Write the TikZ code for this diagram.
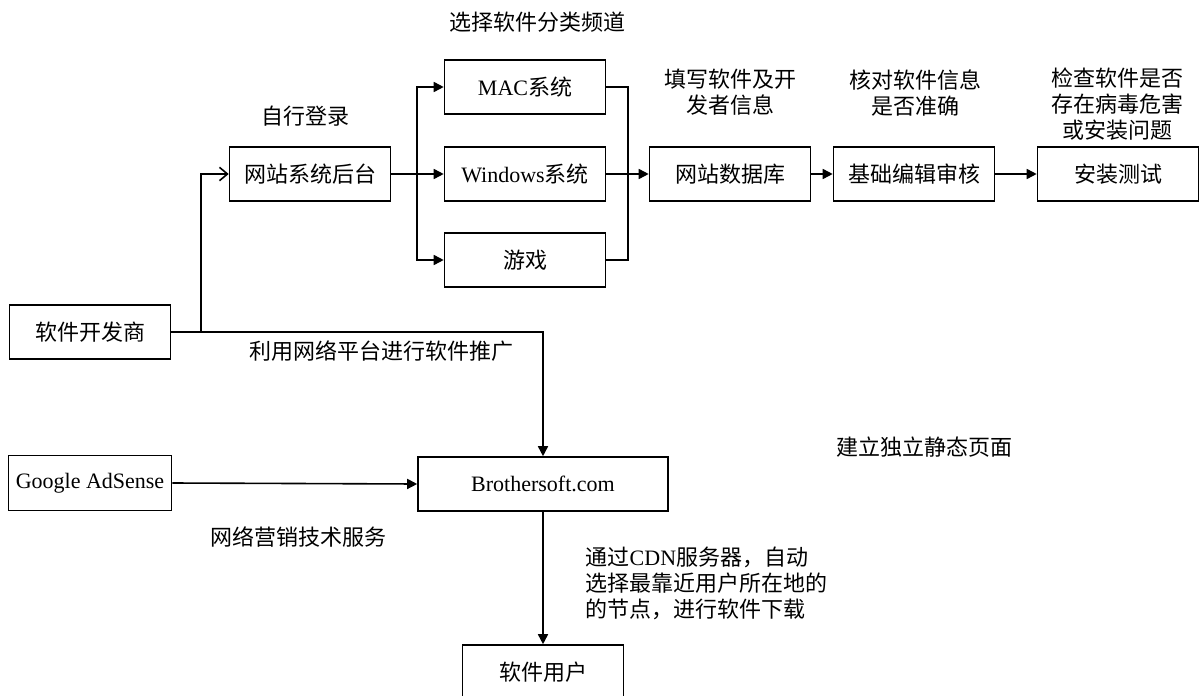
\documentclass[tikz,border=0pt]{standalone}
\usepackage{fontspec}
\usepackage{tikz}
\usetikzlibrary{arrows.meta}
\setmainfont{Noto Sans CJK SC}
\newfontfamily\latin{Liberation Serif}

\begin{document}
\begin{tikzpicture}[x=0.75pt, y=-0.75pt,
	every node/.style={font=\fontsize{16.5}{19.5}\selectfont},
	box/.style={draw, line width=1.2pt, minimum width=120.75pt, minimum height=40.5pt, inner sep=0pt},
	arr/.style={line width=1.2pt, -{Triangle[length=7.5pt, width=7.5pt]}},
	openarr/.style={line width=1.2pt, -{Straight Barb[length=6pt, width=10pt]}},
	link/.style={line width=1.2pt}]
	\useasboundingbox (0,0) rectangle (1201,695);

	%% Draw boxes
	\node[box] (dev)     at (90,332)   {软件开发商};
	\node[box] (backend) at (310,174)  {网站系统后台};
	\node[box] (mac)     at (525,87)   {{\latin MAC}系统};
	\node[box] (win)     at (525,174)  {{\latin Windows}系统};
	\node[box] (game)    at (525,260)  {游戏};
	\node[box] (db)      at (730,174)  {网站数据库};
	\node[box] (edit)    at (914,174)  {基础编辑审核};
	\node[box] (test)    at (1118,174) {安装测试};
	\node[box, minimum width=122.25pt, minimum height=41.25pt] (adsense) at (90,483) {\latin Google AdSense};
	\node[box, minimum width=187.5pt] (site) at (543,484) {\latin Brothersoft.com};
	\node[box] (user)    at (543,672)  {软件用户};

	%% Draw text on connectors
	\node (chan)   at (537,22)  {选择软件分类频道};
	\node (login)  at (305,116) {自行登录};
	\node[align=center] (fill)  at (730,92)   {填写软件及开\\发者信息};
	\node[align=center] (check) at (915,93)   {核对软件信息\\是否准确};
	\node[align=center] (virus) at (1117,104) {检查软件是否\\存在病毒危害\\或安装问题};
	\node (promo)  at (381,351) {利用网络平台进行软件推广};
	\node (market) at (298,537) {网络营销技术服务};
	\node (static) at (924,447) {建立独立静态页面};
	\node[align=left, anchor=west] (cdn) at (581,583)
		{通过{\latin CDN}服务器，自动\\选择最靠近用户所在地的\\的节点，进行软件下载};

	%% Draw connectors
	\coordinate (split1) at (201,332);
	\coordinate (split2) at (417,174);
	\coordinate (merge)  at (628,174);

	\draw[link] (dev.east) -- (split1);
	\draw[openarr] (split1) |- (backend.west);
	\draw[arr] (split1) -| (site.north);

	\draw[link] (backend.east) -- (split2);
	\draw[arr] (split2) |- (mac.west);
	\draw[arr] (split2) -- (win.west);
	\draw[arr] (split2) |- (game.west);

	\draw[link] (mac.east) -| (merge);
	\draw[link] (game.east) -| (merge);
	\draw[arr] (win.east) -- (db.west);

	\draw[arr] (db.east) -- (edit.west);
	\draw[arr] (edit.east) -- (test.west);
	\draw[arr] (adsense.east) -- (site.west);
	\draw[arr] (site.south) -- (user.north);
\end{tikzpicture}
\end{document}
